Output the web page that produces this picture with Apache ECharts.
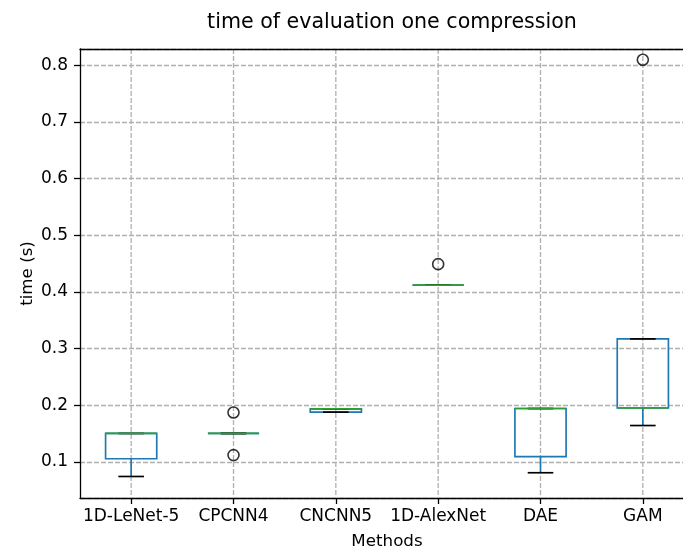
<!DOCTYPE html>
<html>
<head>
<meta charset="utf-8">
<script src="https://cdn.jsdelivr.net/npm/echarts@6/dist/echarts.min.js"></script>
<style>
html,body{margin:0;padding:0;background:#fff;}
#chart{width:683px;height:549px;}
</style>
</head>
<body>
<div id="chart"></div>
<script>
const categories = ['1D-LeNet-5', 'CPCNN4', 'CNCNN5', '1D-AlexNet', 'DAE', 'GAM'];
const whiskerLow  = [0.074, 0.150, 0.1877, 0.412, 0.0806, 0.164];
const q1          = [0.1053, 0.150, 0.1877, 0.412, 0.109, 0.195];
const median      = [0.150, 0.150, 0.1935, 0.412, 0.194, 0.195];
const q3          = [0.150, 0.150, 0.1935, 0.412, 0.194, 0.317];
const whiskerHigh = [0.150, 0.150, 0.1935, 0.412, 0.194, 0.317];
const outlierCat  = [1, 1, 3, 5];
const outlierVal  = [0.187, 0.1118, 0.449, 0.81];
const yTicks = [0.1, 0.2, 0.3, 0.4, 0.5, 0.6, 0.7, 0.8];

const FONT = 'DejaVu Sans';
const BLUE = '#1f77b4', GREEN = '#2ca02c', GRIDC = '#b0b0b0';

const boxData = categories.map((c, i) => [i, whiskerLow[i], q1[i], median[i], q3[i], whiskerHigh[i]]);
const outData = outlierCat.map((c, i) => [c, outlierVal[i]]);

const chart = echarts.init(document.getElementById('chart'), null, {renderer: 'canvas'});
chart.setOption({
  animation: false,
  backgroundColor: '#fff',
  title: {
    text: 'time of evaluation one compression',
    left: 387, top: 7, textAlign: 'center',
    textStyle: {fontFamily: FONT, fontSize: 20.6, fontWeight: 'normal', color: '#000'}
  },
  grid: {left: 80, top: 49, width: 614, height: 449, show: false, outerBoundsMode: 'none', containLabel: false},
  xAxis: [{
    type: 'category', data: categories, boundaryGap: true,
    name: 'Methods', nameLocation: 'middle', nameGap: 35, nameMoveOverlap: false,
    nameTextStyle: {fontFamily: FONT, fontSize: 16.7, color: '#000'},
    axisLine: {show: true, lineStyle: {color: '#000', width: 1.3}},
    axisTick: {show: true, alignWithLabel: true, length: 6, lineStyle: {color: '#000', width: 1.3}},
    axisLabel: {fontFamily: FONT, fontSize: 17, color: '#000', margin: 10, interval: 0},
    splitLine: {show: false}
  }, {
    type: 'category', data: categories, position: 'top', z: 10,
    axisLine: {show: true, lineStyle: {color: '#000', width: 1.3}},
    axisTick: {show: false}, axisLabel: {show: false}, splitLine: {show: false}
  }],
  yAxis: {
    type: 'value', min: 0.036, max: 0.829, splitNumber: 8,
    name: 'time (s)', nameLocation: 'middle', nameGap: 44, nameRotate: 90, nameMoveOverlap: false,
    nameTextStyle: {fontFamily: FONT, fontSize: 16.7, color: '#000'},
    axisLine: {show: true, lineStyle: {color: '#000', width: 1.3}},
    axisTick: {show: true, length: 6, lineStyle: {color: '#000', width: 1.3}},
    axisLabel: {fontFamily: FONT, fontSize: 17, color: '#000', margin: 12,
      showMinLabel: false, showMaxLabel: false,
      formatter: v => yTicks.some(t => Math.abs(t - v) < 1e-9) ? v.toFixed(1) : ''},
    splitLine: {show: true, lineStyle: {color: GRIDC, type: [5, 2], width: 1.3}}
  },
  series: [
    {
      type: 'custom', z: 1, silent: true,
      data: categories.map((c, i) => [i]),
      renderItem: function (params, api) {
        const p = api.coord([api.value(0), 0]);
        const cs = params.coordSys;
        return {type: 'line', shape: {x1: p[0], y1: cs.y, x2: p[0], y2: cs.y + cs.height},
          style: {stroke: GRIDC, lineWidth: 1.3, lineDash: [5, 2]}};
      }
    },
    {
      type: 'custom', z: 3, silent: true,
      data: boxData,
      renderItem: function (params, api) {
        const i = api.value(0);
        const pLow = api.coord([i, api.value(1)]);
        const pQ1 = api.coord([i, api.value(2)]);
        const pMed = api.coord([i, api.value(3)]);
        const pQ3 = api.coord([i, api.value(4)]);
        const pHigh = api.coord([i, api.value(5)]);
        const bw = api.size([1, 0])[0];
        const cx = pMed[0];
        const half = bw * 0.25, capHalf = bw * 0.125;
        const lw = 1.67;
        return {
          type: 'group',
          children: [
            {type: 'rect', shape: {x: cx - half, y: pQ3[1], width: 2 * half, height: pQ1[1] - pQ3[1]},
              style: {fill: 'none', stroke: BLUE, lineWidth: lw}},
            {type: 'line', shape: {x1: cx, y1: pQ1[1], x2: cx, y2: pLow[1]}, style: {stroke: BLUE, lineWidth: lw}},
            {type: 'line', shape: {x1: cx, y1: pQ3[1], x2: cx, y2: pHigh[1]}, style: {stroke: BLUE, lineWidth: lw}},
            {type: 'line', shape: {x1: cx - capHalf, y1: pLow[1], x2: cx + capHalf, y2: pLow[1]}, style: {stroke: '#000', lineWidth: lw}},
            {type: 'line', shape: {x1: cx - capHalf, y1: pHigh[1], x2: cx + capHalf, y2: pHigh[1]}, style: {stroke: '#000', lineWidth: lw}},
            {type: 'line', shape: {x1: cx - half, y1: pMed[1], x2: cx + half, y2: pMed[1]}, style: {stroke: GREEN, lineWidth: lw}}
          ]
        };
      }
    },
    {
      type: 'scatter', z: 4, silent: true,
      data: outData,
      symbol: 'circle', symbolSize: 11,
      itemStyle: {color: 'rgba(0,0,0,0)', borderColor: '#000', borderWidth: 1.6}
    }
  ]
});
</script>
</body>
</html>
